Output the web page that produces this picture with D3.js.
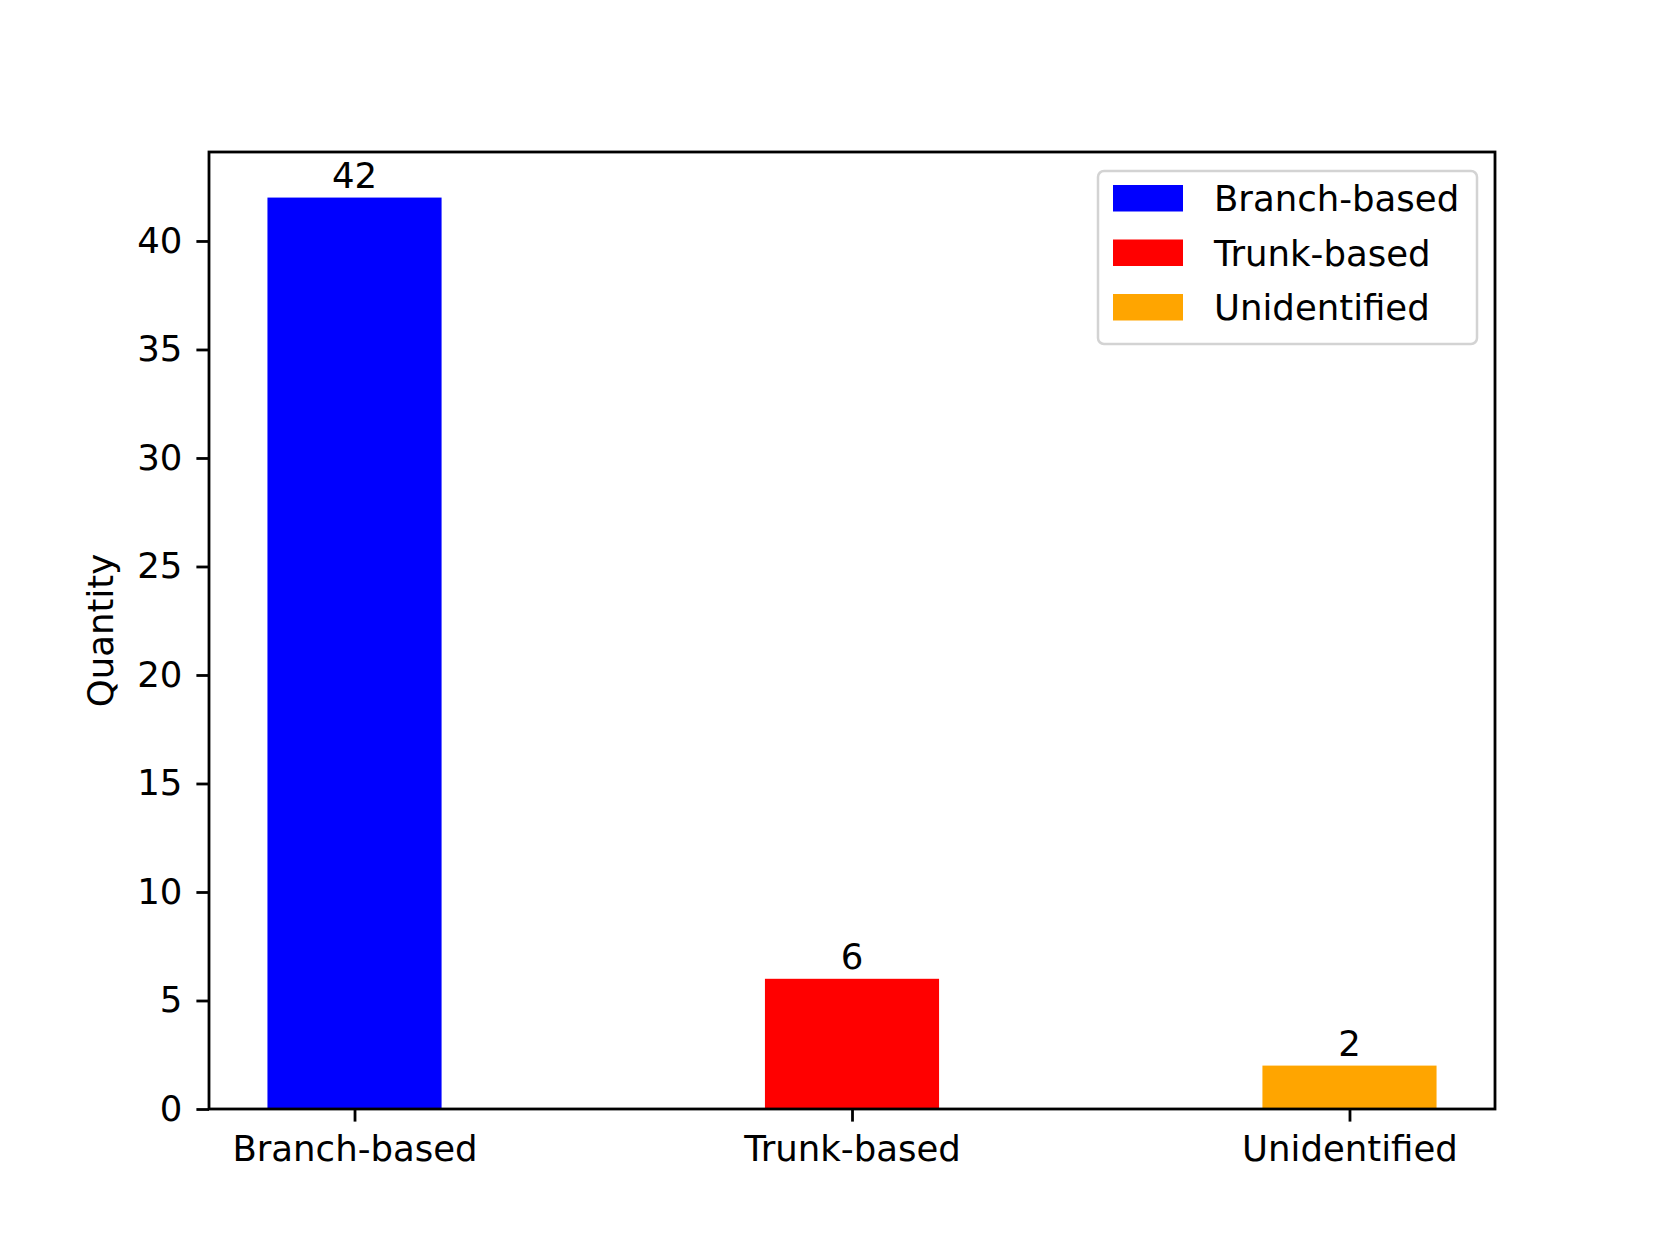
<!DOCTYPE html>
<html>
<head>
<meta charset="utf-8">
<script src="https://cdn.jsdelivr.net/npm/d3@7"></script>
<style>
  body { margin: 0; background: #fff; }
  text { font-family: "DejaVu Sans", sans-serif; fill: #000; }
</style>
</head>
<body>
<script>
// categories and counts
var categories = ['Branch-based', 'Trunk-based', 'Unidentified'];
var counts = [42, 6, 2];
var colors = ['#0000ff', '#ff0000', '#ffa500'];
var yTicks = [0, 5, 10, 15, 20, 25, 30, 35, 40];

var W = 1661, H = 1246;
// axes box in pixels
var margins = {top: 152, bottom: 137, left: 209, right: 166};
var fontSize = 35.5;
var tickLen = 12.6;
var barWidth = 0.35;

var svg = d3.select('body').append('svg')
    .attr('width', W)
    .attr('height', H);

var xScale = d3.scaleLinear()
    .domain([-0.2925, 2.2925])
    .range([margins.left, W - margins.right]);
var yScale = d3.scaleLinear()
    .domain([0, 44.1])
    .range([H - margins.bottom, margins.top]);

// bars
svg.selectAll('rect.bar')
    .data(counts)
    .enter()
  .append('rect')
    .attr('class', 'bar')
    .attr('x', function(d, i){ return xScale(i - barWidth / 2); })
    .attr('width', function(d, i){ return xScale(i + barWidth / 2) - xScale(i - barWidth / 2); })
    .attr('y', function(d){ return yScale(d); })
    .attr('height', function(d){ return yScale(0) - yScale(d); })
    .attr('fill', function(d, i){ return colors[i]; });

// value labels above bars
svg.selectAll('text.val')
    .data(counts)
    .enter()
  .append('text')
    .attr('class', 'val')
    .attr('x', function(d, i){ return xScale(i); })
    .attr('y', function(d){ return yScale(d) - 9.5; })
    .attr('text-anchor', 'middle')
    .style('font-size', fontSize + 'px')
    .text(function(d){ return d; });

// x axis
var xAxis = d3.axisBottom(xScale)
    .tickValues([0, 1, 2])
    .tickFormat(function(d){ return categories[d]; })
    .tickSize(tickLen)
    .tickSizeOuter(0)
    .tickPadding(14.5);
var gx = svg.append('g')
    .attr('transform', `translate(0, ${H - margins.bottom})`)
    .call(xAxis);

// y axis
var yAxis = d3.axisLeft(yScale)
    .tickValues(yTicks)
    .tickSize(tickLen)
    .tickSizeOuter(0)
    .tickPadding(14);
var gy = svg.append('g')
    .attr('transform', `translate(${margins.left}, 0)`)
    .call(yAxis);

[gx, gy].forEach(function(g){
  g.select('.domain').remove();
  g.selectAll('.tick line').attr('stroke', '#000').attr('stroke-width', 2.8);
  g.selectAll('.tick text')
      .style('font-size', fontSize + 'px')
      .style('font-family', '"DejaVu Sans", sans-serif')
      .attr('fill', '#000');
});

// spines
svg.append('rect')
    .attr('x', margins.left)
    .attr('y', margins.top)
    .attr('width', W - margins.left - margins.right)
    .attr('height', H - margins.top - margins.bottom)
    .attr('fill', 'none')
    .attr('stroke', '#000')
    .attr('stroke-width', 2.8);

// y label
svg.append('text')
    .attr('transform', `translate(113, ${(margins.top + H - margins.bottom) / 2}) rotate(-90)`)
    .attr('text-anchor', 'middle')
    .style('font-size', fontSize + 'px')
    .text('Quantity');

// legend
var legend = svg.append('g')
    .attr('transform', 'translate(1098, 171)');
legend.append('rect')
    .attr('width', 379)
    .attr('height', 173)
    .attr('rx', 6)
    .attr('fill', 'rgba(255,255,255,0.8)')
    .attr('stroke', '#d3d3d3')
    .attr('stroke-width', 2.5);
var items = legend.selectAll('g.item')
    .data(categories)
    .enter()
  .append('g')
    .attr('class', 'item')
    .attr('transform', function(d, i){ return `translate(0, ${14 + i * 54.5})`; });
items.append('rect')
    .attr('x', 15)
    .attr('width', 70)
    .attr('height', 26.5)
    .attr('fill', function(d, i){ return colors[i]; });
items.append('text')
    .attr('x', 116)
    .attr('y', 26)
    .style('font-size', fontSize + 'px')
    .text(function(d){ return d; });
</script>
</body>
</html>
